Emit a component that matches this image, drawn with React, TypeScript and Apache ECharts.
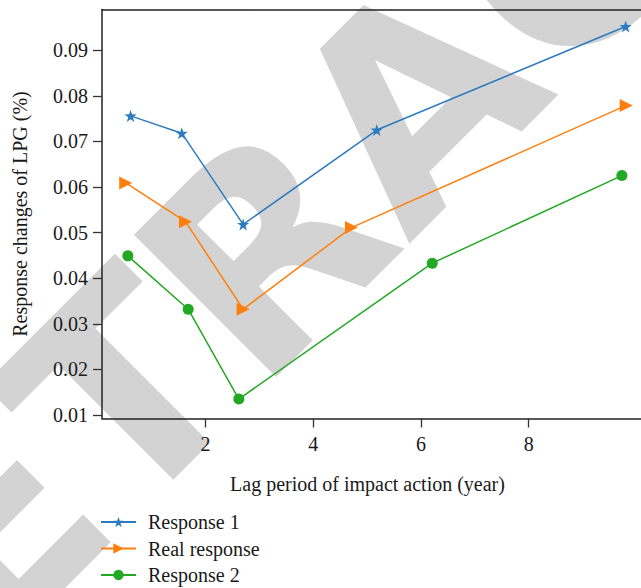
import React, { useEffect, useRef } from "react";
import * as echarts from "echarts";

const seriesNames = ["Response 1", "Real response", "Response 2"];
const xResp1 = [0.61, 1.56, 2.7, 5.18, 9.8];
const yResp1 = [0.0756, 0.0718, 0.0518, 0.0725, 0.0952];
const xReal = [0.52, 1.63, 2.7, 4.71, 9.81];
const yReal = [0.0609, 0.0524, 0.0332, 0.0511, 0.0779];
const xResp2 = [0.56, 1.68, 2.62, 6.21, 9.73];
const yResp2 = [0.0449, 0.0332, 0.0135, 0.0433, 0.0625];
const xTicks = [2, 4, 6, 8];
const yTicks = [0.01, 0.02, 0.03, 0.04, 0.05, 0.06, 0.07, 0.08, 0.09];
const colors = ["#2f7bbf", "#ff7f0e", "#22a822"];
const watermark = "RETRACTED";

const STAR =
  "path://M0,-10 L2.35,-3.24 L9.51,-3.09 L3.8,1.24 L5.88,8.09 L0,4 L-5.88,8.09 L-3.8,1.24 L-9.51,-3.09 L-2.35,-3.24 Z";

const pairs = (xs: number[], ys: number[]) => xs.map((x, i) => [x, ys[i]]);

export default function App() {
  const ref = useRef<HTMLDivElement>(null);
  useEffect(() => {
    if (!ref.current) return;
    const chart = echarts.init(ref.current, undefined, { renderer: "svg" });
    const serif = "Liberation Serif, Times New Roman, serif";
    const textColor = "#1a1a1a";
    const spine = { show: true, lineStyle: { color: "#222", width: 1.5 } };
    chart.setOption({
      animation: false,
      backgroundColor: "#ffffff",
      textStyle: { fontFamily: serif },
      graphic: [
        {
          type: "text",
          x: -226,
          y: 744,
          rotation: Math.PI / 4,
          z: 0,
          silent: true,
          style: {
            text: watermark,
            fontSize: 276,
            fontWeight: "bold",
            fontFamily: "DejaVu Sans, sans-serif",
            fill: "#d3d3d3",
            textAlign: "left",
            textVerticalAlign: "middle",
            verticalAlign: "middle",
          },
        },
      ],
      grid: {
        show: false,
        left: 102,
        top: 9.5,
        right: 100,
        bottom: 231.5,
      },
      legend: {
        orient: "vertical",
        left: 100,
        top: 512,
        padding: 0,
        itemWidth: 35,
        itemHeight: 13,
        itemGap: 6.5,
        data: seriesNames,
        textStyle: {
          fontFamily: serif,
          fontSize: 20,
          color: textColor,
          lineHeight: 20,
          padding: [0, 0, 0, 7],
        },
      },
      xAxis: [
        {
          type: "value",
          position: "bottom",
          min: 0.08,
          max: 11.18,
          splitLine: { show: false },
          axisLine: { ...spine, onZero: false },
          axisTick: {
            show: true,
            inside: false,
            length: 9,
            customValues: xTicks,
            lineStyle: { color: "#333", width: 1.3 },
          },
          axisLabel: {
            customValues: xTicks,
            margin: 15,
            fontSize: 20,
            fontFamily: serif,
            color: textColor,
          },
          name: "Lag period of impact action (year)",
          nameLocation: "middle",
          nameGap: 55,
          nameTextStyle: {
            fontSize: 20,
            fontFamily: serif,
            color: textColor,
            padding: [0, 67, 0, 0],
          },
        },
        {
          type: "value",
          position: "top",
          min: 0.08,
          max: 11.18,
          splitLine: { show: false },
          axisLine: { ...spine, onZero: false },
          axisTick: { show: false },
          axisLabel: { show: false },
        },
      ],
      yAxis: {
        type: "value",
        min: 0.009232,
        max: 0.09893,
        splitLine: { show: false },
        axisLine: { ...spine, onZero: false },
        axisTick: {
          show: true,
          inside: false,
          length: 9,
          customValues: yTicks,
          lineStyle: { color: "#333", width: 1.3 },
        },
        axisLabel: {
          customValues: yTicks,
          margin: 14,
          fontSize: 20,
          fontFamily: serif,
          color: textColor,
          formatter: (v: number) => v.toFixed(2),
        },
        name: "Response changes of LPG (%)",
        nameLocation: "middle",
        nameRotate: 90,
        nameGap: 72,
        nameTextStyle: {
          fontSize: 20,
          fontFamily: serif,
          color: textColor,
        },
      },
      series: [
        {
          name: seriesNames[0],
          type: "line",
          data: pairs(xResp1, yResp1),
          symbol: STAR,
          symbolSize: 12,
          itemStyle: { color: colors[0] },
          lineStyle: { color: colors[0], width: 1.5 },
          z: 3,
        },
        {
          name: seriesNames[1],
          type: "line",
          data: pairs(xReal, yReal),
          symbol: "triangle",
          symbolRotate: -90,
          symbolSize: 13,
          itemStyle: { color: colors[1] },
          lineStyle: { color: colors[1], width: 1.5 },
          z: 3,
        },
        {
          name: seriesNames[2],
          type: "line",
          data: pairs(xResp2, yResp2),
          symbol: "circle",
          symbolSize: 11,
          itemStyle: { color: colors[2] },
          lineStyle: { color: colors[2], width: 1.5 },
          z: 3,
        },
      ],
    });
    return () => chart.dispose();
  }, []);
  return (
    <div
      style={{
        position: "absolute",
        left: 0,
        top: 0,
        width: 641,
        height: 588,
        overflow: "hidden",
        background: "#fff",
      }}
    >
      <div ref={ref} style={{ width: 800, height: 650 }} />
    </div>
  );
}
